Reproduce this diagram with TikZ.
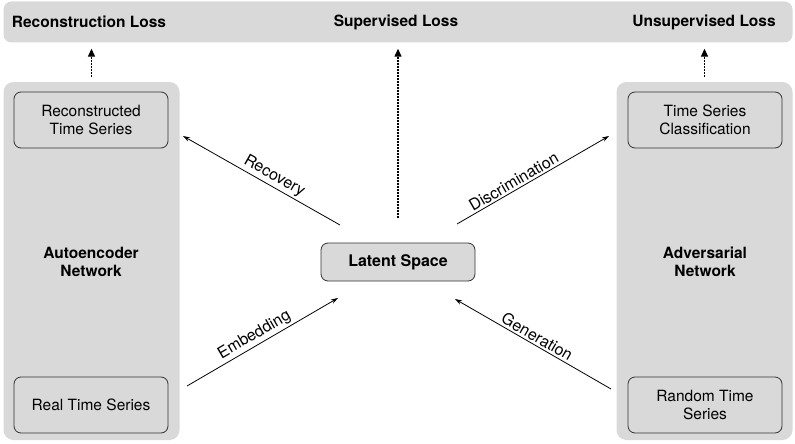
\documentclass[tikz,border=0pt]{standalone}
\usepackage{fontspec}
\setmainfont{TeX Gyre Heros}
\usetikzlibrary{arrows.meta}
\definecolor{panelgray}{HTML}{D9D9D9}
\definecolor{boxedge}{HTML}{333333}

\tikzset{
  >={Stealth[length=7pt,width=4.5pt]},
  bar/.style={fill=panelgray, rounded corners=8pt, inner sep=0pt, minimum width=789pt, minimum height=41pt},
  panel/.style={fill=panelgray, rounded corners=10pt, inner sep=0pt, minimum width=176pt, minimum height=358pt},
  tsbox/.style={draw=boxedge, fill=panelgray, line width=0.8pt, rounded corners=7pt, minimum width=154pt, minimum height=56pt, align=center, font=\fontsize{15.5}{18}\selectfont},
  title/.style={font=\fontsize{15.5}{18}\selectfont\bfseries, align=center},
  flow/.style={->, line width=0.8pt},
  lbl/.style={sloped, above, inner sep=2pt, font=\fontsize{16}{18}\selectfont},
  loss/.style={-{Triangle[length=8pt,width=7pt]}, line width=1.3pt, dash pattern=on 1.3pt off 1.7pt}
}

\begin{document}
\begin{tikzpicture}[x=1pt, y=-1pt]
\useasboundingbox (0,0) rectangle (795,444);

% losses
\node[bar] (bar) at (398,22) {};
\node[title] (recloss) at (89,22) {Reconstruction Loss};
\node[title] (suploss) at (396,22) {Supervised Loss};
\node[title] (unsloss) at (704,22) {Unsupervised Loss};

% autoencoder side
\node[panel] (ae) at (91.5,261) {};
\node[tsbox] (rects) at (91,120) {Reconstructed\\Time Series};
\node[tsbox] (realts) at (91,405) {Real Time Series};
\node[title] (aenet) at (91,262) {Autoencoder\\Network};

% adversarial side
\node[panel] (adv) at (704.5,261) {};
\node[tsbox] (clsts) at (705,120) {Time Series\\Classification};
\node[tsbox] (randts) at (705,405) {Random Time\\Series};
\node[title] (advnet) at (705,262) {Adversarial\\Network};

% latent space
\node[tsbox, minimum height=38pt, font=\fontsize{16}{18}\selectfont\bfseries] (lat) at (398,262) {Latent Space};

% arrow ends
\coordinate (rec-a) at (183,136);
\coordinate (rec-b) at (340,225);
\coordinate (dis-a) at (457,224);
\coordinate (dis-b) at (609,136);
\coordinate (emb-a) at (187,386);
\coordinate (emb-b) at (338,298);
\coordinate (gen-a) at (455,299);
\coordinate (gen-b) at (611,389);

\draw [flow, <-] (rec-a) -- node[lbl, pos=0.55] {Recovery} (rec-b);
\draw [flow] (dis-a) -- node[lbl, pos=0.4] {Discrimination} (dis-b);
\draw [flow] (emb-a) -- node[lbl, pos=0.48] {Embedding} (emb-b);
\draw [flow, <-] (gen-a) -- node[lbl, pos=0.5] {Generation} (gen-b);

% to the losses
\draw [loss, shorten <=5pt, shorten >=6pt] (ae.north) -- (ae.north |- bar.south);
\draw [loss, shorten <=25pt, shorten >=6pt] (lat.north) -- (lat.north |- bar.south);
\draw [loss, shorten <=5pt, shorten >=6pt] (adv.north) -- (adv.north |- bar.south);
\end{tikzpicture}
\end{document}
